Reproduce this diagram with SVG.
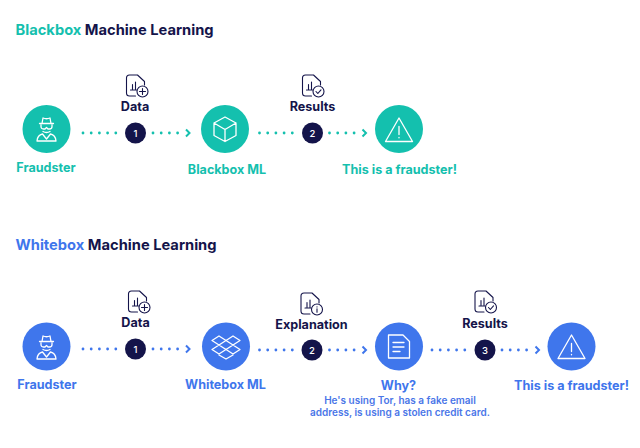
<svg xmlns="http://www.w3.org/2000/svg" width="640" height="448" viewBox="0 0 640 448">
<defs>
<style>
text{font-family:"Inter","Liberation Sans",sans-serif;font-weight:700}
.t{font-size:14.7px}
.l{font-size:12.6px;text-anchor:middle}
.s{font-size:10px;text-anchor:middle;font-weight:600;fill:#4a76e8}
.n{font-size:9.500px;text-anchor:middle;fill:#fff;font-weight:500}
.dk{fill:#14144a}.g{fill:#14c0ae}.b{fill:#3f76ec}
.ic{fill:none;stroke:#fff;stroke-width:1.3;stroke-linejoin:round;stroke-linecap:round}
.doc{fill:none;stroke:#14144a;stroke-width:1.1;stroke-linejoin:round;stroke-linecap:round}
.dg{fill:none;stroke:#14c0ae;stroke-width:2.800;stroke-linecap:round;stroke-dasharray:0 8.200}
.db{fill:none;stroke:#3f76ec;stroke-width:2.800;stroke-linecap:round;stroke-dasharray:0 8.200}
.ag{fill:none;stroke:#14c0ae;stroke-width:2}
.ab{fill:none;stroke:#3f76ec;stroke-width:2}
</style>
<g id="docBase"><path class="doc" d="M3 0H11L18 6.500V10M9 21H3Q0 21 0 18V3Q0 0 3 0M6 14V9.500M9 14V7M4 15H10"/></g>
<g id="plus"><use href="#docBase"/><circle class="doc" cx="16" cy="16.500" r="5.500"/><path class="doc" d="M16 13.500V19.500M13 16.500H19"/></g>
<g id="check"><use href="#docBase"/><circle class="doc" cx="16" cy="16.500" r="5.500"/><path class="doc" d="M13.500 16.500L15.300 18.500L18.500 14.800"/></g>
<g id="info"><use href="#docBase"/><circle class="doc" cx="16" cy="16.500" r="5.500"/><path class="doc" d="M16 15.800V19.300M16 13.800V14"/></g>
<g id="spy"><path class="ic" d="M-7-6.500H7M-4.500-6.500L-3.500-12Q0-10.500 3.500-12L4.500-6.500M-5.500-5V-3.500Q-5.500-1-3-1H-1.500L0-2.500L1.500-1H3Q5.500-1 5.500-3.500V-5M-3.500 1.500Q0 3.500 3.500 1.500M-9.500 11Q-9 5-4 4L0 9L4 4Q9 5 9.500 11Z"/></g>
<g id="warn"><path class="ic" d="M0-13L13.500 10.500H-13.500ZM0-4.500V3.500M0 6.300V6.800"/></g>
</defs>

<text class="t" x="15.500" y="35"><tspan class="g">Blackbox</tspan><tspan class="dk"> Machine Learning</tspan></text>
<text class="t" x="15.500" y="250"><tspan class="b">Whitebox</tspan><tspan class="dk"> Machine Learning</tspan></text>

<g id="connectors">
<path class="dg" d="M83 133H120"/><path class="dg" d="M153 133H180"/><path class="ag" d="M186 129.500L189.500 133L186 136.500"/>
<path class="dg" d="M259.500 133H296"/><path class="dg" d="M329.500 133H357"/><path class="ag" d="M362.500 129.500L366 133L362.500 136.500"/>
<path class="db" d="M83 349H120"/><path class="db" d="M153 349H180"/><path class="ab" d="M186 345.500L189.500 349L186 352.500"/>
<path class="db" d="M259.500 350H296"/><path class="db" d="M329.500 350H357"/><path class="ab" d="M362.500 346.500L366 350L362.500 353.500"/>
<path class="db" d="M432 350H469"/><path class="db" d="M502 350H530"/><path class="ab" d="M535.500 346.500L539 350L535.500 353.500"/>
</g>

<g id="top-fraudster"><circle class="g" cx="46.500" cy="129" r="24"/><use href="#spy" x="46.500" y="130"/><text class="l g" x="46" y="172">Fraudster</text></g>
<g id="top-data"><use href="#plus" x="126.500" y="75"/><text class="l dk" x="135" y="111">Data</text><circle class="dk" cx="135.500" cy="133" r="10.500"/><text class="n" x="135.500" y="136.500">1</text></g>
<g id="top-blackbox"><circle class="g" cx="225" cy="129" r="24"/><path class="ic" d="M225 117L236 123V135.500L225 141.500L214 135.500V123ZM214 123L225 129.500L236 123M225 129.500V141.500"/><text class="l g" x="227" y="174">Blackbox ML</text></g>
<g id="top-results"><use href="#check" x="302.500" y="75"/><text class="l dk" x="312.500" y="111">Results</text><circle class="dk" cx="312.500" cy="133" r="10.500"/><text class="n" x="312.500" y="136.500">2</text></g>
<g id="top-alert"><circle class="g" cx="399" cy="129" r="24"/><use href="#warn" x="399" y="131"/><text class="l g" x="399.500" y="174">This is a fraudster!</text></g>

<g id="bottom-fraudster"><circle class="b" cx="46.500" cy="346.500" r="24"/><use href="#spy" x="46.500" y="348"/><text class="l b" x="47" y="389">Fraudster</text></g>
<g id="bottom-data"><use href="#plus" x="128.500" y="291"/><text class="l dk" x="135.500" y="327">Data</text><circle class="dk" cx="135.500" cy="349" r="10.500"/><text class="n" x="135.500" y="352.500">1</text></g>
<g id="bottom-whitebox"><circle class="b" cx="226" cy="346.500" r="24"/><path class="ic" d="M219 336L226 340.500L219 345L212 340.500ZM233 336L240 340.500L233 345L226 340.500ZM219 345L226 349.500L233 345L240 349.500L233 354L226 349.500L219 354L212 349.500ZM219 355L226 359L233 355"/><text class="l b" x="225.500" y="389">Whitebox ML</text></g>
<g id="bottom-explanation"><use href="#info" x="301" y="293"/><text class="l dk" x="311.500" y="329">Explanation</text><circle class="dk" cx="312" cy="350" r="10.500"/><text class="n" x="312" y="353.500">2</text></g>
<g id="bottom-why"><circle class="b" cx="399" cy="346.500" r="24"/><path class="ic" d="M388.500 335H403L409.500 341.500V358H388.500ZM393 342.500H404M393 347H404M393 351.500H400"/><text class="l b" x="398.500" y="390">Why?</text><text class="s" x="400" y="404">He's using Tor, has a fake email</text><text class="s" x="400" y="416">address, is using a stolen credit card.</text></g>
<g id="bottom-results"><use href="#check" x="475" y="291"/><text class="l dk" x="485" y="328">Results</text><circle class="dk" cx="485" cy="350" r="10.500"/><text class="n" x="485" y="353.500">3</text></g>
<g id="bottom-alert"><circle class="b" cx="571.500" cy="346.500" r="24"/><use href="#warn" x="571.500" y="348"/><text class="l b" x="571.500" y="390">This is a fraudster!</text></g>
</svg>
